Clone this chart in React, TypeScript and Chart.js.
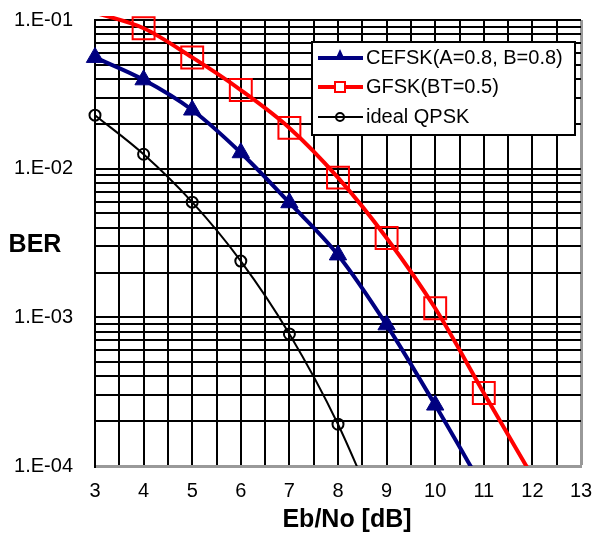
import React, { useEffect, useRef } from 'react';
import { Chart, registerables } from 'chart.js';

Chart.register(...registerables);

// ---- data ----
const ebNo = [3, 4, 5, 6, 7, 8, 9, 10, 11, 12];
const cefskBer = [5.6e-2, 3.96e-2, 2.48e-2, 1.28e-2, 5.9e-3, 2.63e-3, 8.9e-4, 2.57e-4, 7.0e-5];
const gfskBer = [1.12e-1, 8.8e-2, 5.6e-2, 3.38e-2, 1.88e-2, 8.7e-3, 3.42e-3, 1.15e-3, 3.1e-4, 8.5e-5];
const qpskBer = [2.29e-2, 1.25e-2, 5.95e-3, 2.39e-3, 7.73e-4, 1.91e-4, 3.36e-5];

const seriesLabels = ['CEFSK(A=0.8, B=0.8)', 'GFSK(BT=0.5)', 'ideal QPSK'];
const xMin = 3;
const xMax = 13;
const xGridStep = 0.5;
const yDecades = [1e-4, 1e-3, 1e-2, 1e-1];
const yDecadeLabels = ['1.E-04', '1.E-03', '1.E-02', '1.E-01'];
const yMultipliers = [1, 2, 3, 4, 5, 6, 7, 8, 9];
const xTitle = 'Eb/No [dB]';
const yTitle = 'BER';

const FONT = "'Liberation Sans', Arial, sans-serif";
const Y_MIN = yDecades[0];
const Y_MAX = yDecades[yDecades.length - 1];

const toPoints = (vals: number[]) => vals.map((v, i) => ({ x: ebNo[i], y: v }));

const yTickValues: number[] = [];
yDecades.forEach((d, i) => {
  if (i === yDecades.length - 1) {
    yTickValues.push(d);
  } else {
    yMultipliers.forEach((m) => yTickValues.push(+(m * d).toPrecision(3)));
  }
});
const xTickValues: number[] = [];
for (let v = xMin; v <= xMax + 1e-9; v += xGridStep) xTickValues.push(+v.toFixed(2));

const decadeLabel = (v: number) => {
  const idx = yDecades.findIndex((d) => Math.abs(d - v) / d < 1e-6);
  return idx >= 0 ? yDecadeLabels[idx] : '';
};

const inRange = (c: any) => c.parsed && c.parsed.y <= Y_MAX * 1.0001 && c.parsed.y >= Y_MIN * 0.9999;

const textPlugin = {
  id: 'extraText',
  afterDraw(chart: any) {
    const ctx = chart.ctx;
    ctx.save();
    ctx.fillStyle = '#000';
    ctx.textAlign = 'center';
    ctx.textBaseline = 'middle';
    ctx.font = `bold 25px ${FONT}`;
    ctx.fillText(yTitle, 35, 245);
    ctx.fillText(xTitle, 347, 520);

    // legend
    const lx = 312, ly = 42, lw = 263, lh = 93;
    ctx.fillStyle = '#fff';
    ctx.fillRect(lx, ly, lw, lh);
    ctx.strokeStyle = '#000';
    ctx.lineWidth = 2;
    ctx.strokeRect(lx, ly, lw, lh);
    const rows = [58, 87, 117];
    const ds = chart.data.datasets;
    ds.forEach((d: any, i: number) => {
      const y = rows[i];
      ctx.strokeStyle = d.borderColor;
      ctx.lineWidth = d.borderWidth;
      ctx.beginPath();
      ctx.moveTo(318, y);
      ctx.lineTo(363, y);
      ctx.stroke();
      const cx = 340;
      if (i === 0) {
        ctx.fillStyle = d.borderColor;
        ctx.beginPath();
        ctx.moveTo(cx, y - 9);
        ctx.lineTo(cx - 5, y + 2);
        ctx.lineTo(cx + 5, y + 2);
        ctx.closePath();
        ctx.fill();
      } else if (i === 1) {
        ctx.fillStyle = '#fff';
        ctx.fillRect(cx - 5, y - 5, 10, 10);
        ctx.lineWidth = 2;
        ctx.strokeRect(cx - 5, y - 5, 10, 10);
      } else {
        ctx.fillStyle = '#fff';
        ctx.lineWidth = 2;
        ctx.beginPath();
        ctx.arc(cx, y, 4, 0, Math.PI * 2);
        ctx.fill();
        ctx.stroke();
        ctx.beginPath();
        ctx.moveTo(cx - 4, y);
        ctx.lineTo(cx + 4, y);
        ctx.stroke();
      }
      ctx.fillStyle = '#000';
      ctx.textAlign = 'left';
      ctx.textBaseline = 'middle';
      ctx.font = `20px ${FONT}`;
      ctx.fillText(d.label, 366, y);
    });
    ctx.restore();
  },
};

export default function App() {
  const ref = useRef<HTMLCanvasElement | null>(null);
  useEffect(() => {
    if (!ref.current) return;
    const chart = new Chart(ref.current, {
      type: 'line',
      data: {
        datasets: [
          {
            label: seriesLabels[0],
            data: toPoints(cefskBer),
            borderColor: '#000080',
            backgroundColor: '#000080',
            borderWidth: 4,
            pointStyle: 'triangle',
            pointRadius: (c: any) => (inRange(c) ? 10 : 0),
            pointBorderWidth: 1,
            cubicInterpolationMode: 'monotone',
            clip: { left: false, top: false, right: 0, bottom: 0 },
          },
          {
            label: seriesLabels[1],
            data: toPoints(gfskBer),
            borderColor: '#ff0000',
            backgroundColor: 'rgba(0,0,0,0)',
            borderWidth: 4,
            pointStyle: 'rect',
            pointRadius: (c: any) => (inRange(c) ? 15.5 : 0),
            pointBorderWidth: 2,
            cubicInterpolationMode: 'monotone',
            clip: { left: false, top: 4, right: 0, bottom: 0 },
          },
          {
            label: seriesLabels[2],
            data: toPoints(qpskBer),
            borderColor: '#000',
            backgroundColor: 'rgba(0,0,0,0)',
            borderWidth: 2,
            pointStyle: 'circle',
            pointRadius: (c: any) => (inRange(c) ? 5.5 : 0),
            pointBorderWidth: 2,
            cubicInterpolationMode: 'monotone',
            clip: { left: false, top: false, right: 0, bottom: 0 },
          },
        ] as any,
      },
      options: {
        animation: false,
        responsive: false,
        devicePixelRatio: 1,
        layout: { padding: { top: 20, right: 14, left: 0, bottom: 0 } },
        plugins: { legend: { display: false }, tooltip: { enabled: false } },
        scales: {
          x: {
            type: 'linear',
            position: 'bottom',
            min: xMin,
            max: xMax,
            afterFit: (s: any) => {
              s.height = 73;
              s.paddingLeft = 0;
              s.paddingRight = 0;
            },
            afterBuildTicks: (s: any) => {
              s.ticks = xTickValues.map((v) => ({ value: v }));
            },
            ticks: {
              autoSkip: false,
              maxRotation: 0,
              padding: 13,
              color: '#000',
              font: { family: FONT, size: 20 },
              callback: (v: any) => (Number.isInteger(v) ? String(v) : ''),
            },
            grid: {
              drawTicks: false,
              color: (c: any) => (c.tick && c.tick.value === xMax ? '#999' : '#000'),
              lineWidth: (c: any) => (c.tick && c.tick.value === xMax ? 3 : 2),
            },
            border: { color: '#999', width: 3 },
          },
          y: {
            type: 'logarithmic',
            min: Y_MIN,
            max: Y_MAX,
            afterFit: (s: any) => {
              s.width = 95;
              s.paddingTop = 0;
              s.paddingBottom = 0;
            },
            afterBuildTicks: (s: any) => {
              s.ticks = yTickValues.map((v) => ({ value: v }));
            },
            ticks: {
              autoSkip: false,
              padding: 22,
              color: '#000',
              font: { family: FONT, size: 20 },
              callback: (v: any) => decadeLabel(Number(v)),
            },
            grid: {
              drawTicks: false,
              color: (c: any) => (c.tick && c.tick.value <= Y_MIN * 1.0001 ? '#999' : '#000'),
              lineWidth: (c: any) => (c.tick && c.tick.value <= Y_MIN * 1.0001 ? 3 : 2),
            },
            border: { color: '#000', width: 2 },
          },
        },
      } as any,
      plugins: [textPlugin],
    });
    return () => chart.destroy();
  }, []);
  return (
    <div style={{ position: 'fixed', left: 0, top: 0, width: 595, height: 539, background: '#fff' }}>
      <canvas ref={ref} width={595} height={539} style={{ width: 595, height: 539 }} />
    </div>
  );
}
